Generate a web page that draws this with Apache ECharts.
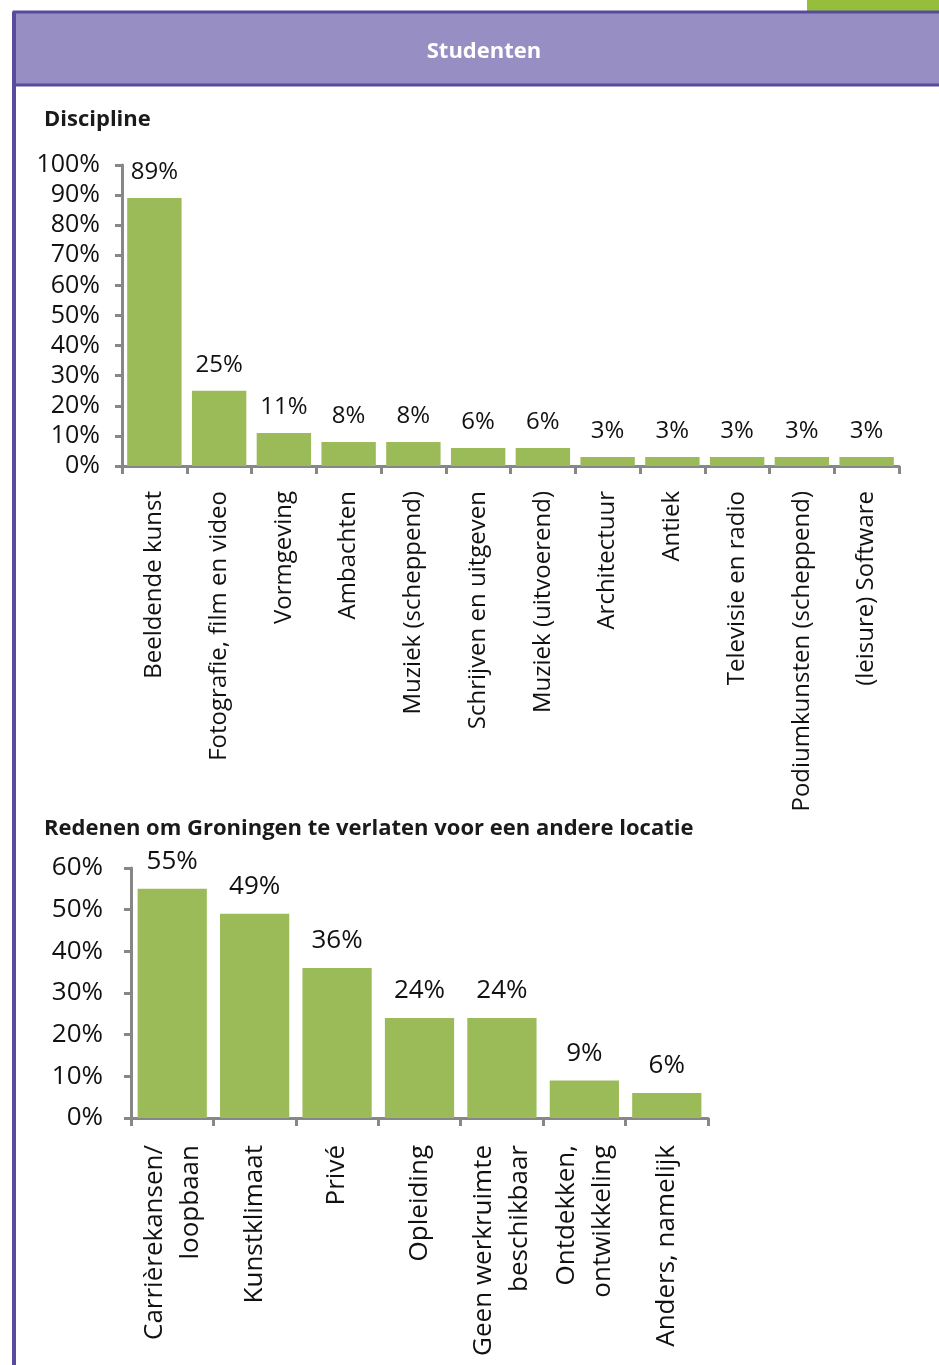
<!DOCTYPE html>
<html>
<head>
<meta charset="utf-8">
<script src="https://cdn.jsdelivr.net/npm/echarts@6/dist/echarts.min.js"></script>
<style>
  html, body { margin: 0; padding: 0; background: #ffffff; }
  #chart { width: 939px; height: 1365px; }
</style>
</head>
<body>
<div id="chart"></div>
<script>
// Discipline of the students (percent)
const disciplineCategories = [
  'Beeldende kunst', 'Fotografie, film en video', 'Vormgeving', 'Ambachten',
  'Muziek (scheppend)', 'Schrijven en uitgeven', 'Muziek (uitvoerend)', 'Architectuur',
  'Antiek', 'Televisie en radio', 'Podiumkunsten (scheppend)', '(leisure) Software'
];
const disciplineValues = [89, 25, 11, 8, 8, 6, 6, 3, 3, 3, 3, 3];

// Reasons to leave Groningen for another location (percent)
const redenCategories = [
  'Carrièrekansen/\nloopbaan', 'Kunstklimaat', 'Privé', 'Opleiding',
  'Geen werkruimte\nbeschikbaar', 'Ontdekken,\nontwikkeling', 'Anders, namelijk'
];
const redenValues = [55, 49, 36, 24, 24, 9, 6];

const FONT = '"Open Sans", "Noto Sans", sans-serif';
const AXIS_GREY = '#878787';
const BAR_GREEN = '#9bbb59';

function valueAxis(gridIndex, max, margin, fontSize) {
  return {
    type: 'value', gridIndex: gridIndex, min: 0, max: max, interval: 10,
    axisLine: { show: true, lineStyle: { color: AXIS_GREY, width: 3 } },
    axisTick: { show: true, length: 7, lineStyle: { color: AXIS_GREY, width: 3 } },
    splitLine: { show: false },
    axisLabel: { formatter: '{value}%', fontFamily: FONT, fontSize: fontSize, color: '#111', margin: margin }
  };
}

function categoryAxis(gridIndex, data, fontSize, margin) {
  return {
    type: 'category', gridIndex: gridIndex, data: data,
    axisLine: { show: true, lineStyle: { color: AXIS_GREY, width: 3 } },
    axisTick: { show: true, length: 8, lineStyle: { color: AXIS_GREY, width: 3 } },
    axisLabel: {
      interval: 0, rotate: 90, margin: margin, fontFamily: FONT, fontSize: fontSize,
      color: '#111', lineHeight: 36
    }
  };
}

function barSeries(index, values, fontSize) {
  return {
    type: 'bar', xAxisIndex: index, yAxisIndex: index, data: values,
    barCategoryGap: '16%',
    itemStyle: { color: BAR_GREEN },
    label: {
      show: true, position: 'top', distance: 14, formatter: '{c}%',
      fontFamily: FONT, fontSize: fontSize, color: '#111'
    },
    silent: true
  };
}

const chart = echarts.init(document.getElementById('chart'), null, { renderer: 'canvas' });

chart.setOption({
  animation: false,
  backgroundColor: '#ffffff',
  graphic: [
    { type: 'rect', shape: { x: 807, y: 0, width: 140, height: 11 }, style: { fill: '#94be3c' } },
    { type: 'rect', shape: { x: 14, y: 12, width: 940, height: 73 },
      style: { fill: '#978fc3', stroke: '#574b9e', lineWidth: 3 } },
    { type: 'line', shape: { x1: 14, y1: 12, x2: 14, y2: 1365 },
      style: { stroke: '#574b9e', lineWidth: 4 } },
    { type: 'text', x: 484, y: 52,
      style: { text: 'Studenten', fill: '#ffffff', font: 'bold 22px ' + FONT,
               align: 'center', verticalAlign: 'middle' } }
  ],
  title: [
    { text: 'Discipline', left: 44, top: 109, padding: 0,
      textStyle: { fontFamily: FONT, fontSize: 22, fontWeight: 'bold', color: '#1a1a1a' } },
    { text: 'Redenen om Groningen te verlaten voor een andere locatie', left: 44, top: 818, padding: 0,
      textStyle: { fontFamily: FONT, fontSize: 22, fontWeight: 'bold', color: '#1a1a1a' } }
  ],
  grid: [
    { left: 122, top: 165, width: 777, height: 301 },
    { left: 131, top: 868, width: 577, height: 250 }
  ],
  xAxis: [categoryAxis(0, disciplineCategories, 24, 25), categoryAxis(1, redenCategories, 26, 27)],
  yAxis: [valueAxis(0, 100, 22, 25), valueAxis(1, 60, 28, 26)],
  series: [barSeries(0, disciplineValues, 24), barSeries(1, redenValues, 26)]
});
</script>
</body>
</html>
